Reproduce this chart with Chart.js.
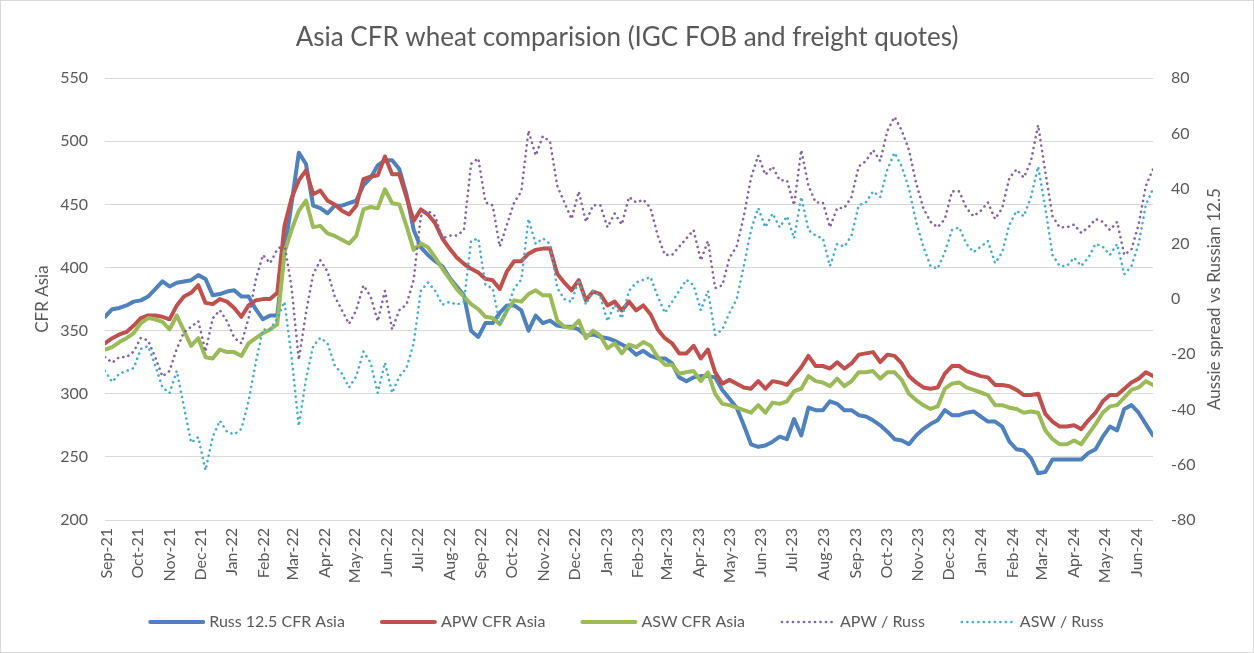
<!DOCTYPE html>
<html>
<head>
<meta charset="utf-8">
<title>Asia CFR wheat comparision</title>
<script src="https://cdn.jsdelivr.net/npm/chart.js@4.4.1/dist/chart.umd.min.js"></script>
<style>
  body { margin: 0; background: #fff; }
  canvas { display: block; }
</style>
</head>
<body>
<canvas id="wheatChart" width="1254" height="653"></canvas>
<script>
// Weekly quotes, first week 30 Aug 2021, USD/t
const monthLabels = [
  'Sep-21', 'Oct-21', 'Nov-21', 'Dec-21',
  'Jan-22', 'Feb-22', 'Mar-22', 'Apr-22', 'May-22', 'Jun-22', 'Jul-22', 'Aug-22', 'Sep-22', 'Oct-22', 'Nov-22', 'Dec-22',
  'Jan-23', 'Feb-23', 'Mar-23', 'Apr-23', 'May-23', 'Jun-23', 'Jul-23', 'Aug-23', 'Sep-23', 'Oct-23', 'Nov-23', 'Dec-23',
  'Jan-24', 'Feb-24', 'Mar-24', 'Apr-24', 'May-24', 'Jun-24'
];

const russ = [
  361, 367, 368, 370, 373, 374, 377, 383, 389, 385,
  388, 389, 390, 394, 391, 378, 379, 381, 382, 377,
  377, 367, 359, 362, 362, 413, 451, 491, 482, 449,
  447, 443, 449, 449, 451, 453, 465, 471, 481, 485,
  485, 478, 458, 430, 416, 410, 405, 401, 392, 385,
  378, 350, 345, 356, 356, 364, 370, 370, 366, 350,
  362, 356, 358, 354, 353, 353, 351, 346, 347, 345,
  344, 342, 339, 336, 331, 334, 330, 328, 328, 324,
  313, 310, 313, 314, 314, 313, 303, 296, 289, 275,
  260, 258, 259, 262, 266, 264, 280, 267, 289, 287,
  287, 294, 292, 287, 287, 283, 282, 279, 275, 270,
  264, 263, 260, 267, 272, 276, 279, 287, 283, 283,
  285, 286, 282, 278, 278, 274, 262, 256, 255, 249,
  237, 238, 248, 248, 248, 248, 248, 253, 256, 266,
  274, 271, 288, 291, 285, 276, 267
];

const apw = [
  340, 344, 347, 349, 354, 360, 362, 362, 361, 359,
  370, 377, 380, 386, 372, 371, 375, 373, 368, 361,
  370, 374, 375, 375, 380, 433, 455, 469, 477, 458,
  461, 453, 450, 445, 442, 449, 470, 472, 473, 488,
  474, 474, 456, 437, 446, 442, 435, 423, 415, 408,
  403, 399, 396, 391, 390, 383, 397, 405, 405, 411,
  414, 415, 415, 395, 388, 382, 390, 374, 381, 379,
  370, 373, 366, 373, 366, 370, 363, 351, 344, 340,
  332, 332, 338, 328, 335, 317, 308, 311, 308, 305,
  304, 310, 304, 310, 309, 307, 314, 321, 330, 322,
  322, 320, 325, 320, 324, 331, 332, 333, 325, 331,
  330, 324, 314, 309, 305, 304, 305, 316, 322, 322,
  318, 316, 314, 313, 307, 307, 306, 303, 299, 299,
  300, 284, 278, 274, 274, 275, 272, 279, 285, 294,
  299, 299, 304, 309, 312, 317, 314
];

const asw = [
  335, 337, 341, 344, 348, 356, 360, 359, 357, 351,
  362, 350, 338, 344, 329, 328, 335, 333, 333, 330,
  340, 344, 348, 351, 355, 412, 430, 445, 453, 432,
  433, 427, 425, 422, 419, 425, 446, 448, 447, 462,
  451, 450, 433, 414, 419, 416, 408, 399, 391, 383,
  377, 371, 367, 361, 360, 355, 366, 374, 373, 379,
  382, 378, 378, 358, 353, 352, 358, 344, 350, 346,
  336, 340, 332, 339, 337, 341, 338, 329, 323, 323,
  316, 317, 318, 310, 317, 300, 292, 291, 289, 287,
  285, 291, 285, 293, 292, 294, 302, 304, 314, 310,
  309, 306, 312, 306, 310, 317, 317, 318, 312, 317,
  317, 311, 300, 295, 291, 288, 290, 304, 308, 309,
  305, 303, 301, 299, 291, 291, 289, 288, 285, 286,
  285, 271, 264, 260, 260, 263, 260, 268, 276, 285,
  290, 291, 297, 303, 305, 310, 307
];

// spreads vs Russian 12.5 (right axis)
const apwSpread = [
  -21, -23, -21, -21, -19, -14, -15, -21, -28, -26,
  -18, -12, -10, -8, -19, -7, -4, -8, -14, -16,
  -7, 7, 16, 13, 18, 20, 4, -22, -5, 9,
  14, 10, 1, -4, -9, -4, 5, 1, -8, 3,
  -11, -4, -2, 7, 30, 32, 30, 22, 23, 23,
  25, 49, 51, 35, 34, 19, 27, 35, 39, 61,
  52, 59, 57, 41, 35, 29, 39, 28, 34, 34,
  26, 31, 27, 37, 35, 36, 33, 23, 16, 16,
  19, 22, 25, 14, 21, 4, 5, 15, 19, 30,
  44, 52, 45, 48, 43, 43, 34, 54, 41, 35,
  35, 26, 33, 33, 37, 48, 50, 54, 50, 61,
  66, 61, 54, 42, 33, 28, 26, 29, 39, 39,
  33, 30, 32, 35, 29, 33, 44, 47, 44, 50,
  63, 46, 30, 26, 26, 27, 24, 26, 29, 28,
  25, 28, 16, 18, 27, 41, 47
];

const aswSpread = [
  -26, -30, -27, -26, -25, -18, -17, -24, -32, -34,
  -26, -39, -52, -50, -62, -50, -44, -48, -49, -47,
  -37, -23, -11, -11, -7, -1, -21, -46, -29, -17,
  -14, -16, -24, -27, -32, -28, -19, -23, -34, -23,
  -34, -28, -25, -16, 3, 6, 3, -2, -1, -2,
  -1, 21, 22, 5, 4, -9, -4, 4, 7, 29,
  20, 22, 20, 4, 0, -1, 7, -2, 3, 1,
  -8, -2, -7, 3, 6, 7, 8, 1, -5, -1,
  3, 7, 5, -4, 3, -13, -11, -5, 0, 12,
  25, 33, 26, 31, 26, 30, 22, 37, 25, 23,
  22, 12, 20, 19, 23, 34, 35, 39, 37, 47,
  53, 48, 40, 28, 19, 12, 11, 17, 25, 26,
  20, 17, 19, 21, 13, 17, 27, 32, 30, 37,
  48, 33, 16, 12, 12, 15, 12, 15, 20, 19,
  16, 20, 9, 12, 20, 34, 40
];

const DAY = 86400000;
const axisStart = Date.UTC(2021, 8, 1);
const weekStart = Date.UTC(2021, 7, 30);
const weekDay = i => (weekStart - axisStart) / DAY + 7 * i;
const monthTicks = monthLabels.map((m, k) => (Date.UTC(2021, 8 + k, 1) - axisStart) / DAY);

function toPoints(values) {
  return values.map((v, i) => ({ x: weekDay(i), y: v }));
}

const textColor = '#595959';
const gridColor = '#d9d9d9';
const baseFont = { family: 'Lato', size: 16 };
const dots = [0.1, 5.4];

// white background + light frame
const frame = {
  id: 'frame',
  beforeDraw(chart) {
    const ctx = chart.ctx;
    ctx.save();
    ctx.fillStyle = '#fff';
    ctx.fillRect(0, 0, chart.width, chart.height);
    ctx.restore();
  },
  afterDraw(chart) {
    const ctx = chart.ctx;
    ctx.save();
    ctx.strokeStyle = gridColor;
    ctx.lineWidth = 1;
    ctx.strokeRect(0.5, 0.5, chart.width - 1, chart.height - 1);
    ctx.restore();
  }
};

// right axis title reads bottom-to-top like Excel
const rightTitle = {
  id: 'rightTitle',
  afterDraw(chart) {
    const ctx = chart.ctx;
    const area = chart.chartArea;
    const ax = chart.scales.y2;
    ctx.save();
    ctx.translate(ax.left + 62, (area.top + area.bottom) / 2);
    ctx.rotate(-Math.PI / 2);
    ctx.font = '17px Lato';
    ctx.fillStyle = textColor;
    ctx.textAlign = 'center';
    ctx.textBaseline = 'middle';
    ctx.fillText('Aussie spread vs Russian 12.5', 0, 0);
    ctx.restore();
  }
};

// legend along the bottom with line samples
const bottomLegend = {
  id: 'bottomLegend',
  afterDraw(chart) {
    const ctx = chart.ctx;
    ctx.save();
    ctx.font = '16px Lato';
    const items = chart.data.datasets.map(ds => {
      const dotted = ds.borderDash && ds.borderDash.length > 0;
      return { ds, dotted, line: dotted ? 50 : 53, gap: dotted ? 8 : 6, w: ctx.measureText(ds.label).width };
    });
    const spacing = 37;
    const total = items.reduce((s, it) => s + it.line + it.gap + it.w, 0) + spacing * (items.length - 1);
    let x = (chart.width - total) / 2;
    const y = 622;
    items.forEach(it => {
      ctx.beginPath();
      ctx.strokeStyle = it.ds.borderColor;
      ctx.lineWidth = it.ds.borderWidth;
      ctx.lineCap = 'round';
      ctx.setLineDash(it.ds.borderDash || []);
      ctx.moveTo(x, y);
      ctx.lineTo(x + it.line, y);
      ctx.stroke();
      ctx.setLineDash([]);
      ctx.fillStyle = textColor;
      ctx.textAlign = 'left';
      ctx.textBaseline = 'middle';
      ctx.fillText(it.ds.label, x + it.line + it.gap, y);
      x += it.line + it.gap + it.w + spacing;
    });
    ctx.restore();
  }
};

const ctx = document.getElementById('wheatChart').getContext('2d');
const wheatChart = new Chart(ctx, {
  type: 'line',
  data: {
    datasets: [
      { label: 'Russ 12.5 CFR Asia', data: toPoints(russ), yAxisID: 'y', borderColor: '#4f81bd', borderWidth: 4, order: 5 },
      { label: 'APW CFR Asia', data: toPoints(apw), yAxisID: 'y', borderColor: '#c0504d', borderWidth: 4, order: 4 },
      { label: 'ASW CFR Asia', data: toPoints(asw), yAxisID: 'y', borderColor: '#9bbb59', borderWidth: 4, order: 3 },
      { label: 'APW / Russ', data: toPoints(apwSpread), yAxisID: 'y2', borderColor: '#8064a2', borderWidth: 2.6, borderDash: dots, order: 2 },
      { label: 'ASW / Russ', data: toPoints(aswSpread), yAxisID: 'y2', borderColor: '#4bacc6', borderWidth: 2.6, borderDash: dots, order: 1 }
    ]
  },
  options: {
    responsive: false,
    animation: false,
    devicePixelRatio: 1,
    layout: { padding: { left: 0, right: 0, top: 0, bottom: 63 } },
    elements: {
      point: { radius: 0 },
      line: { tension: 0, borderJoinStyle: 'round', borderCapStyle: 'round' }
    },
    plugins: {
      legend: { display: false },
      tooltip: { enabled: false },
      title: {
        display: true,
        text: 'Asia CFR wheat comparision (IGC FOB and freight quotes)',
        color: textColor,
        font: { family: 'Lato', size: 26, weight: 'normal' },
        padding: { top: 22, bottom: 25 }
      }
    },
    scales: {
      x: {
        type: 'linear',
        min: weekDay(0),
        max: weekDay(russ.length - 1),
        grid: { display: false, drawTicks: false },
        border: { display: false },
        afterBuildTicks: axis => { axis.ticks = monthTicks.map(v => ({ value: v })); },
        afterFit: axis => { axis.height = 70; },
        ticks: {
          autoSkip: false,
          maxRotation: 90,
          minRotation: 90,
          padding: 8,
          color: textColor,
          font: baseFont,
          callback: (v, idx) => monthLabels[idx]
        }
      },
      y: {
        position: 'left',
        min: 200,
        max: 550,
        grid: { color: gridColor, lineWidth: 1, drawTicks: false },
        border: { display: false },
        afterFit: axis => { axis.width = 105; },
        ticks: { stepSize: 50, padding: 17, color: textColor, font: baseFont },
        title: {
          display: true,
          text: 'CFR Asia',
          color: textColor,
          font: { family: 'Lato', size: 17 },
          padding: { top: 32, bottom: 0 }
        }
      },
      y2: {
        position: 'right',
        min: -80,
        max: 80,
        grid: { display: false, drawTicks: false },
        border: { display: false },
        afterFit: axis => { axis.width = 101; },
        ticks: { stepSize: 20, padding: 18, color: textColor, font: baseFont }
      }
    }
  },
  plugins: [frame, rightTitle, bottomLegend]
});
</script>
</body>
</html>
